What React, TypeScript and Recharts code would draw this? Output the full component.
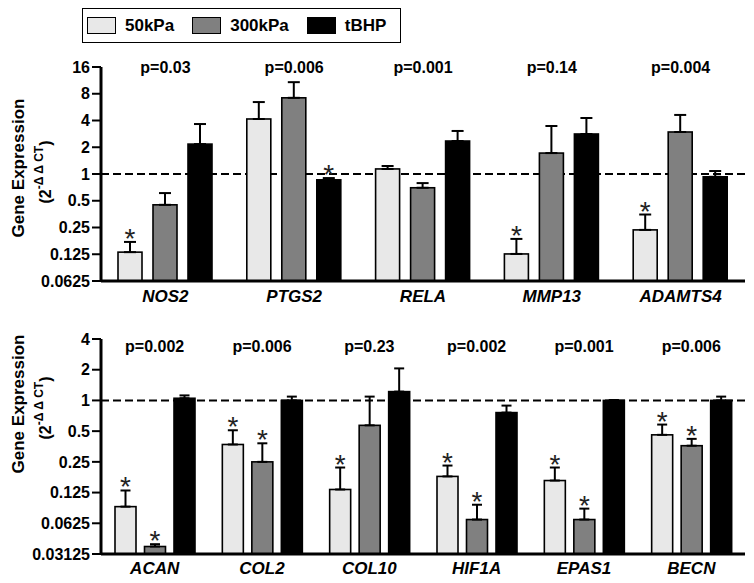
import React from 'react';
import { BarChart, Bar, XAxis, YAxis, ErrorBar, ReferenceLine } from 'recharts';

const FONT = '"Liberation Sans", Arial, Helvetica, sans-serif';

// Series
const SERIES_NAMES = ['50kPa', '300kPa', 'tBHP'];
const SERIES_COLORS = ['#e8e8e8', '#808080', '#000000'];

// Top panel
const genesTop = ['NOS2', 'PTGS2', 'RELA', 'MMP13', 'ADAMTS4'];
const pTop = ['p=0.03', 'p=0.006', 'p=0.001', 'p=0.14', 'p=0.004'];
const kpa50Top = [0.132, 4.16, 1.14, 0.126, 0.235];
const kpa50TopUpper = [0.172, 6.45, 1.23, 0.186, 0.35];
const kpa50TopStar = [true, false, false, true, true];
const kpa300Top = [0.45, 7.2, 0.7, 1.72, 2.97];
const kpa300TopUpper = [0.61, 10.8, 0.79, 3.47, 4.62];
const kpa300TopStar = [false, false, false, false, false];
const tbhpTop = [2.17, 0.86, 2.35, 2.82, 0.93];
const tbhpTopUpper = [3.65, 0.9, 3.05, 4.27, 1.08];
const tbhpTopStar = [false, true, false, false, false];
const ticksTop = [0.0625, 0.125, 0.25, 0.5, 1, 2, 4, 8, 16];

// Bottom panel
const genesBottom = ['ACAN', 'COL2', 'COL10', 'HIF1A', 'EPAS1', 'BECN'];
const pBottom = ['p=0.002', 'p=0.006', 'p=0.23', 'p=0.002', 'p=0.001', 'p=0.006'];
const kpa50Bottom = [0.091, 0.37, 0.134, 0.18, 0.164, 0.46];
const kpa50BottomUpper = [0.131, 0.51, 0.22, 0.23, 0.22, 0.58];
const kpa50BottomStar = [true, true, true, true, true, true];
const kpa300Bottom = [0.037, 0.25, 0.57, 0.068, 0.068, 0.36];
const kpa300BottomUpper = [0.039, 0.38, 1.09, 0.095, 0.087, 0.42];
const kpa300BottomStar = [true, true, false, true, true, true];
const tbhpBottom = [1.05, 1.0, 1.22, 0.76, 1.0, 1.0];
const tbhpBottomUpper = [1.12, 1.09, 2.06, 0.89, 1.01, 1.09];
const tbhpBottomStar = [false, false, false, false, false, false];
const ticksBottom = [0.03125, 0.0625, 0.125, 0.25, 0.5, 1, 2, 4];

const buildRows = (
  genes: string[],
  pvals: string[],
  vals: number[][],
  uppers: number[][],
  stars: boolean[][]
) =>
  genes.map((gene, i) => {
    const row: any = { gene, p: pvals[i] };
    vals.forEach((v, s) => {
      row[`v${s}`] = v[i];
      row[`u${s}`] = uppers[s][i];
      row[`e${s}`] = [0, uppers[s][i] - v[i]];
      row[`s${s}`] = stars[s][i];
    });
    return row;
  });

const topRows = buildRows(
  genesTop,
  pTop,
  [kpa50Top, kpa300Top, tbhpTop],
  [kpa50TopUpper, kpa300TopUpper, tbhpTopUpper],
  [kpa50TopStar, kpa300TopStar, tbhpTopStar]
);
const bottomRows = buildRows(
  genesBottom,
  pBottom,
  [kpa50Bottom, kpa300Bottom, tbhpBottom],
  [kpa50BottomUpper, kpa300BottomUpper, tbhpBottomUpper],
  [kpa50BottomStar, kpa300BottomStar, tbhpBottomStar]
);

// bar with an asterisk above its error bar (position taken from the bar's own geometry)
const makeBarShape = (s: number, minVal: number) => (props: any) => {
  const { x, y, width, height, fill, payload } = props;
  const v = payload[`v${s}`];
  const u = payload[`u${s}`];
  const span = Math.log2(v) - Math.log2(minVal);
  const ppd = span > 0 ? height / span : 0;
  const yUpper = y - (Math.log2(u) - Math.log2(v)) * ppd;
  return (
    <g>
      <rect x={x} y={y} width={width} height={height} fill={fill} stroke="#000" strokeWidth={1.6} />
      {payload[`s${s}`] && (
        <text x={x + width / 2} y={yUpper + 6} textAnchor="middle" fontSize={28} fontFamily={FONT} fill="#222">
          *
        </text>
      )}
    </g>
  );
};

const GeneTick = ({ x, y, index, payload, pvals, pY, labelDy }: any) => (
  <g>
    <text x={x} y={y + labelDy} textAnchor="middle" fontSize={17} fontWeight="bold" fontStyle="italic" fontFamily={FONT} fill="#000">
      {payload.value}
    </text>
    <text x={x} y={pY} textAnchor="middle" fontSize={16} fontWeight="bold" fontFamily={FONT} fill="#000">
      {pvals[index]}
    </text>
  </g>
);

const YTitle = ({ cy }: { cy: number }) => (
  <g fontFamily={FONT} fontWeight="bold" fill="#000">
    <text transform={`translate(18, ${cy}) rotate(-90)`} textAnchor="middle" dominantBaseline="central" fontSize={17}>
      Gene Expression
    </text>
    <text transform={`translate(45, ${cy + 4}) rotate(-90)`} textAnchor="middle" dominantBaseline="central" fontSize={16}>
      (2
      <tspan dy={-6} fontSize={12}>
        -Δ Δ CT
      </tspan>
      <tspan dy={6}>)</tspan>
    </text>
  </g>
);

interface PanelProps {
  rows: any[];
  pvals: string[];
  ticks: number[];
  height: number;
  marginTop: number;
  barSize: number;
  barGap: number;
  cap: number;
  titleY: number;
  pY: number;
  labelDy: number;
}

const Panel = ({ rows, pvals, ticks, height, marginTop, barSize, barGap, cap, titleY, pY, labelDy }: PanelProps) => {
  const minVal = ticks[0];
  return (
    <BarChart
      width={754}
      height={height}
      data={rows}
      margin={{ top: marginTop, right: 9, bottom: 0, left: 0 }}
      barSize={barSize}
      barGap={barGap}
    >
      <ReferenceLine y={1} stroke="#000" strokeWidth={2} strokeDasharray="8 4" zIndex={-10} />
      {SERIES_NAMES.map((name, s) => (
        <Bar
          key={name}
          dataKey={`v${s}`}
          name={name}
          fill={SERIES_COLORS[s]}
          shape={makeBarShape(s, minVal)}
          isAnimationActive={false}
        >
          <ErrorBar dataKey={`e${s}`} direction="y" width={cap} stroke="#000" strokeWidth={2} />
        </Bar>
      ))}
      <XAxis
        dataKey="gene"
        height={29}
        interval={0}
        tickLine={false}
        tickSize={0}
        tickMargin={0}
        axisLine={{ stroke: '#000', strokeWidth: 3 }}
        tick={<GeneTick pvals={pvals} pY={pY} labelDy={labelDy} />}
      />
      <YAxis
        type="number"
        scale="log"
        domain={[ticks[0], ticks[ticks.length - 1]]}
        ticks={ticks}
        interval={0}
        allowDataOverflow
        width={101}
        tickSize={9}
        tickMargin={2}
        tickFormatter={(v: number) => String(v)}
        tick={{ fontSize: 16, fontWeight: 'bold', fill: '#000', fontFamily: FONT }}
        tickLine={{ stroke: '#000', strokeWidth: 2 }}
        axisLine={{ stroke: '#000', strokeWidth: 3 }}
        label={<YTitle cy={titleY} />}
      />
    </BarChart>
  );
};

const LegendBox = () => (
  <div
    style={{
      position: 'absolute',
      left: 82,
      top: 8,
      width: 313,
      height: 33,
      border: '1.5px solid #000',
      display: 'flex',
      alignItems: 'center',
      paddingLeft: 4,
      gap: 18,
      fontFamily: FONT,
      fontWeight: 'bold',
      fontSize: 17,
      boxSizing: 'content-box',
    }}
  >
    {SERIES_NAMES.map((name, i) => (
      <div key={name} style={{ display: 'flex', alignItems: 'center', gap: 9 }}>
        <div style={{ width: 27, height: 15, background: SERIES_COLORS[i], border: '1.5px solid #000' }} />
        <span>{name}</span>
      </div>
    ))}
  </div>
);

export default function App() {
  return (
    <div style={{ position: 'absolute', left: 0, top: 0, width: 754, height: 583, background: '#fff' }}>
      <div style={{ position: 'absolute', left: 0, top: 0 }}>
        <Panel
          rows={topRows}
          pvals={pTop}
          ticks={ticksTop}
          height={310}
          marginTop={67}
          barSize={24}
          barGap={11}
          cap={6}
          titleY={168}
          pY={73}
          labelDy={21}
        />
      </div>
      <div style={{ position: 'absolute', left: 0, top: 310 }}>
        <Panel
          rows={bottomRows}
          pvals={pBottom}
          ticks={ticksBottom}
          height={273}
          marginTop={29}
          barSize={21}
          barGap={8.5}
          cap={5}
          titleY={94}
          pY={42}
          labelDy={20}
        />
      </div>
      <LegendBox />
    </div>
  );
}
